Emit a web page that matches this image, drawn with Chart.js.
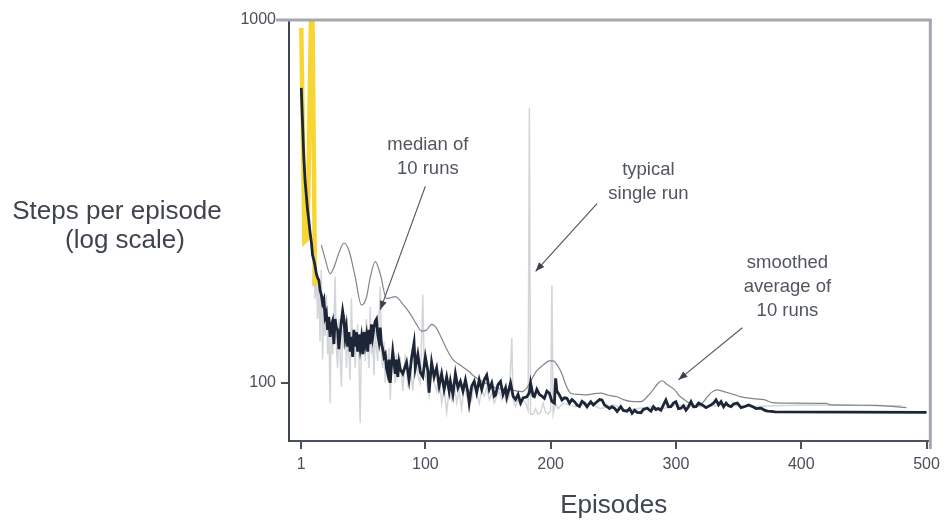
<!DOCTYPE html>
<html>
<head>
<meta charset="utf-8">
<script src="https://cdn.jsdelivr.net/npm/chart.js@4.4.1/dist/chart.umd.min.js"></script>
<style>
  html, body { margin: 0; padding: 0; background: #ffffff; }
  #wrap { width: 946px; height: 521px; position: relative; }
</style>
</head>
<body>
<div id="wrap"><canvas id="c" width="946" height="521"></canvas></div>
<script>
// ---------------- data ----------------
const xTickValues = [1, 100, 200, 300, 400, 500];
const yTickValues = [100, 1000];

// first episodes of the single run (highlighted)
const earlyEpisodes = [1, 3.5, 6, 9.5, 12];
const earlySteps    = [950, 245, 250, 1500, 185];

// median of 10 runs
const medianEpisodes = [1,2,3,4,5,6,7,8,9,10,11,12,13,14,15,16,17,18,19,20,21,22,23,24,25,26,27,28,29,30,31,32,33,34,35,36,37,38,39,40,41,42,43,44,45,46,47,48,49,50,51,52,53,54,55,56,57,58,59,60,61,62,63,64,65,66,67,68,69,70,71,72,73,74,75,76,77,78,79,80,82,85,87,89,91,92,94,96,98,100,102,103,105,107,109,111,113,115,117,119,120,122,124,126,128,130,132,134,135,137,139,141,143,145,147,149,151,153,155,156,158,160,162,164,165,167,168,170,172,174,176,178,181,183,184,186,187,189,191,193,195,197,199,201,203,204,205,207,209,211,213,215,217,219,221,223,225,227,229,232,234,237,239,241,243,245,247,249,251,253,256,258,261,263,265,267,269,272,274,277,280,282,284,286,288,290,292,294,296,298,300,302,304,306,308,310,312,314,316,318,321,324,328,330,332,334,336,338,340,342,344,346,349,352,355,358,361,364,368,371,373,376,379,500];
const medianSteps = [650,520,420,362,330,300,281,260,245,225,218,210,200,195,192,180,175,166,170,152,156,140,152,134,144,148,128,150,142,140,124,136,148,158,150,134,142,126,138,122,134,118,140,126,138,122,136,125,133,120,138,128,135,122,140,128,145,134,142,148,150,136,130,142,128,124,118,120,110,106,116,100,112,122,114,106,116,104,114,109,106,114,102,117,129,110,120,107,104,118,108,94,114,104,110,98,106,96,104,95,101,93,106,97,101,95,102,94,88,98,101,94,102,96,102,105,96,100,92,92.7,99,101,93,97,91.6,97,100,92,90,93,88,91,91.6,94,100,92,91.6,96,93,92,90.7,95,93.7,89,88,103,95,92.7,89.8,91,90.7,88,90,88.8,87,86.1,89,88,86,88.8,87,88.8,90,89.8,87,86.1,85,86,85.2,83.5,86.1,84,83.6,85,82.5,84.1,83,82.8,84.5,85.2,83.6,86,84.5,85,84.1,87,89.8,86,86.1,88,88.8,85,85.2,86.5,84.1,86,88.8,86,86.1,88,87,85.5,87,88,89.8,87,88.8,86,88,86.5,86.1,87.5,88,85.5,86.1,87,86.1,85,85.2,84,83.6,83.5,83.2,83];

// smoothed average of 10 runs
const smoothEpisodes = [17,20,24,27,31,35,39,44,49,53,56,60,64,69,73,76,82,88,93,97,101,105,108,112,117,122,128,134,141,149,157,168,177,181,184,188,194,199,202,206,209,212,216,222,229,235,240,246,253,258,264,272,277,282,286,289,293,299,303,307,312,316,321,325,329,333,337,343,348,352,362,371,377,392,420,424,460,470,484];
const smoothSteps    = [240,220,200,208,228,243,232,196,164,172,195,216,200,171,172,173,165,155,145,139,140,145,143,135,124,116,112,108,103,99.5,96.7,95.7,94.6,97,101,107,112,115,115,111,106,99,93.7,93,92.7,93.5,93.7,92.5,91.6,90,89,88.8,91.6,96,100,101.4,99,95.7,92,89.8,87.5,86.1,88,91.5,94.5,95.7,95,93.7,92.5,91.6,90.5,89.8,88.3,88,87.8,87,86.8,86.3,85.5];

// typical single run
const singleEpisodes = [10,11,12,13,14,15,16,17,18,19,20,21,22,23,24,25,26,27,28,29,30,31,32,33,34,35,36,37,38,39,40,41,42,43,44,45,46,47,48,49,50,51,52,53,54,55,56,57,58,59,60,61,62,63,64,65,66,67,68,69,70,71,72,73,74,75,76,77,78,80,82,84,86,88,90,92,94,96,98,99,101,103,105,107,109,111,113,115,117,119,121,123,125,127,129,131,133,135,137,139,141,143,145,147,149,151,153,155,157,159,161,163,165,167,169,170,172,174,176,178,180,182,183,184,186,188,190,192,194,196,198,200,201,202,204,206,210,220,230,240,250,260,270,280,290,300,320,340,360,380,400,440,470,480];
const singleSteps    = [185,230,170,205,150,190,130,205,116,160,135,175,120,145,88,150,120,140,196,125,110,150,120,97.5,140,125,150,110,135,120,102,171,125,140,110,130,145,115,77.6,130,120,140,115,150,125,110,162,120,135,105,140,125,115,150,184,120,110,130,100,120,110,125,89.8,110,130,115,100,120,105,115,95,120,100,110,95,120,105,100,175,110,100,92,112,100,95,105,88,97,83,95,90,100,88,95,85,98,92,96,90,100,93,88,96,92,97,90,94,88,92,95,90,93,88,92,133,90,86,90,87,90,88,84,572,82,82,85,82,83,88,83,82,84,186,82,88,85,88,86,88,85,87,84,85,86,85,87,86,87,86,86.5,87,86.8,86.5,86.5];

// ---------------- helpers ----------------
function pts(xs, ys) { return xs.map((x, i) => ({ x: x, y: ys[i] })); }

const FONT = '"Liberation Sans", Arial, Helvetica, sans-serif';
const TEXT_COLOR = '#50555f';

const annotations = [
  { lines: ['median of', '10 runs'], at: [102, 453], from: [100, 348], to: [64, 159] },
  { lines: ['typical', 'single run'], at: [278, 386], from: [237, 312], to: [188, 203] },
  { lines: ['smoothed', 'average of', '10 runs'], at: [389, 214], from: [353, 142], to: [302, 102] }
];

const decorPlugin = {
  id: 'decor',
  afterDatasetsDraw(chart) {
    const ctx = chart.ctx, a = chart.chartArea;
    const xs = chart.scales.x, ys = chart.scales.y;
    ctx.save();
    // top and right frame
    ctx.strokeStyle = '#a3a8af';
    ctx.lineWidth = 3;
    ctx.beginPath();
    ctx.moveTo(a.left - 13, a.top);
    ctx.lineTo(a.right, a.top);
    ctx.lineTo(a.right, a.bottom + 8);
    ctx.stroke();

    // annotations
    ctx.fillStyle = TEXT_COLOR;
    ctx.font = '18.5px ' + FONT;
    ctx.textAlign = 'center';
    ctx.textBaseline = 'middle';
    annotations.forEach(an => {
      const cx = xs.getPixelForValue(an.at[0]);
      const cy = ys.getPixelForValue(an.at[1]);
      an.lines.forEach((t, i) => ctx.fillText(t, cx, cy + i * 24));
      const x1 = xs.getPixelForValue(an.from[0]), y1 = ys.getPixelForValue(an.from[1]);
      const x2 = xs.getPixelForValue(an.to[0]), y2 = ys.getPixelForValue(an.to[1]);
      ctx.strokeStyle = '#555a63';
      ctx.lineWidth = 1.2;
      ctx.beginPath(); ctx.moveTo(x1, y1); ctx.lineTo(x2, y2); ctx.stroke();
      const ang = Math.atan2(y2 - y1, x2 - x1), L = 9, W = 3.5;
      ctx.beginPath();
      ctx.moveTo(x2, y2);
      ctx.lineTo(x2 - L * Math.cos(ang) + W * Math.sin(ang), y2 - L * Math.sin(ang) - W * Math.cos(ang));
      ctx.lineTo(x2 - L * Math.cos(ang) - W * Math.sin(ang), y2 - L * Math.sin(ang) + W * Math.cos(ang));
      ctx.closePath();
      ctx.fillStyle = '#3c414b';
      ctx.fill();
      ctx.fillStyle = TEXT_COLOR;
    });

    // axis titles
    ctx.font = '26px ' + FONT;
    ctx.fillStyle = '#3f444e';
    ctx.fillText('Steps per episode', 117, 212);
    ctx.fillText('(log scale)', 125, 241);
    ctx.fillText('Episodes', (a.left + a.right) / 2 + 4, 506);
    ctx.restore();
  }
};

new Chart(document.getElementById('c'), {
  type: 'line',
  data: {
    datasets: [
      { label: 'median of 10 runs', data: pts(medianEpisodes, medianSteps), borderColor: '#1d2637', borderWidth: 2.8, pointRadius: 0, tension: 0, order: 0 },
      { label: 'early episodes', data: pts(earlyEpisodes, earlySteps), borderColor: '#f7d633', borderWidth: 4.5, pointRadius: 0, tension: 0, order: 1 },
      { label: 'smoothed average of 10 runs', data: pts(smoothEpisodes, smoothSteps), borderColor: '#80858d', borderWidth: 1.2, pointRadius: 0, tension: 0.4, cubicInterpolationMode: 'monotone', order: 2 },
      { label: 'typical single run', data: pts(singleEpisodes, singleSteps), borderColor: '#d3d5d9', borderWidth: 1.5, pointRadius: 0, tension: 0, order: 3 }
    ]
  },
  options: {
    responsive: false,
    animation: false,
    events: [],
    layout: { padding: { top: 20, right: 15, left: 0, bottom: 0 } },
    plugins: { legend: { display: false }, tooltip: { enabled: false } },
    scales: {
      x: {
        type: 'linear', min: -8.8, max: 503,
        afterBuildTicks(s) { s.ticks = xTickValues.map(v => ({ value: v })); },
        afterFit(s) { s.height = 80; },
        grid: { drawOnChartArea: false, drawTicks: true, tickLength: 8, color: '#4a505c', lineWidth: 2 },
        border: { display: true, color: '#4a505c', width: 2 },
        ticks: { autoSkip: false, maxRotation: 0, padding: 6, color: '#4a4f59', font: { family: '"Liberation Sans Narrow", ' + FONT, size: 16 }, callback: v => String(v) }
      },
      y: {
        type: 'logarithmic', min: 69.2, max: 1000,
        afterBuildTicks(s) { s.ticks = yTickValues.map(v => ({ value: v })); },
        afterFit(s) { s.width = 289; },
        grid: { drawOnChartArea: false, drawTicks: true, tickLength: 8, color: '#4a505c', lineWidth: 2 },
        border: { display: true, color: '#3e4553', width: 2 },
        ticks: { autoSkip: false, padding: 5, color: '#4a4f59', font: { family: '"Liberation Sans Narrow", ' + FONT, size: 16 }, callback: v => String(v) }
      }
    }
  },
  plugins: [decorPlugin]
});
</script>
</body>
</html>
